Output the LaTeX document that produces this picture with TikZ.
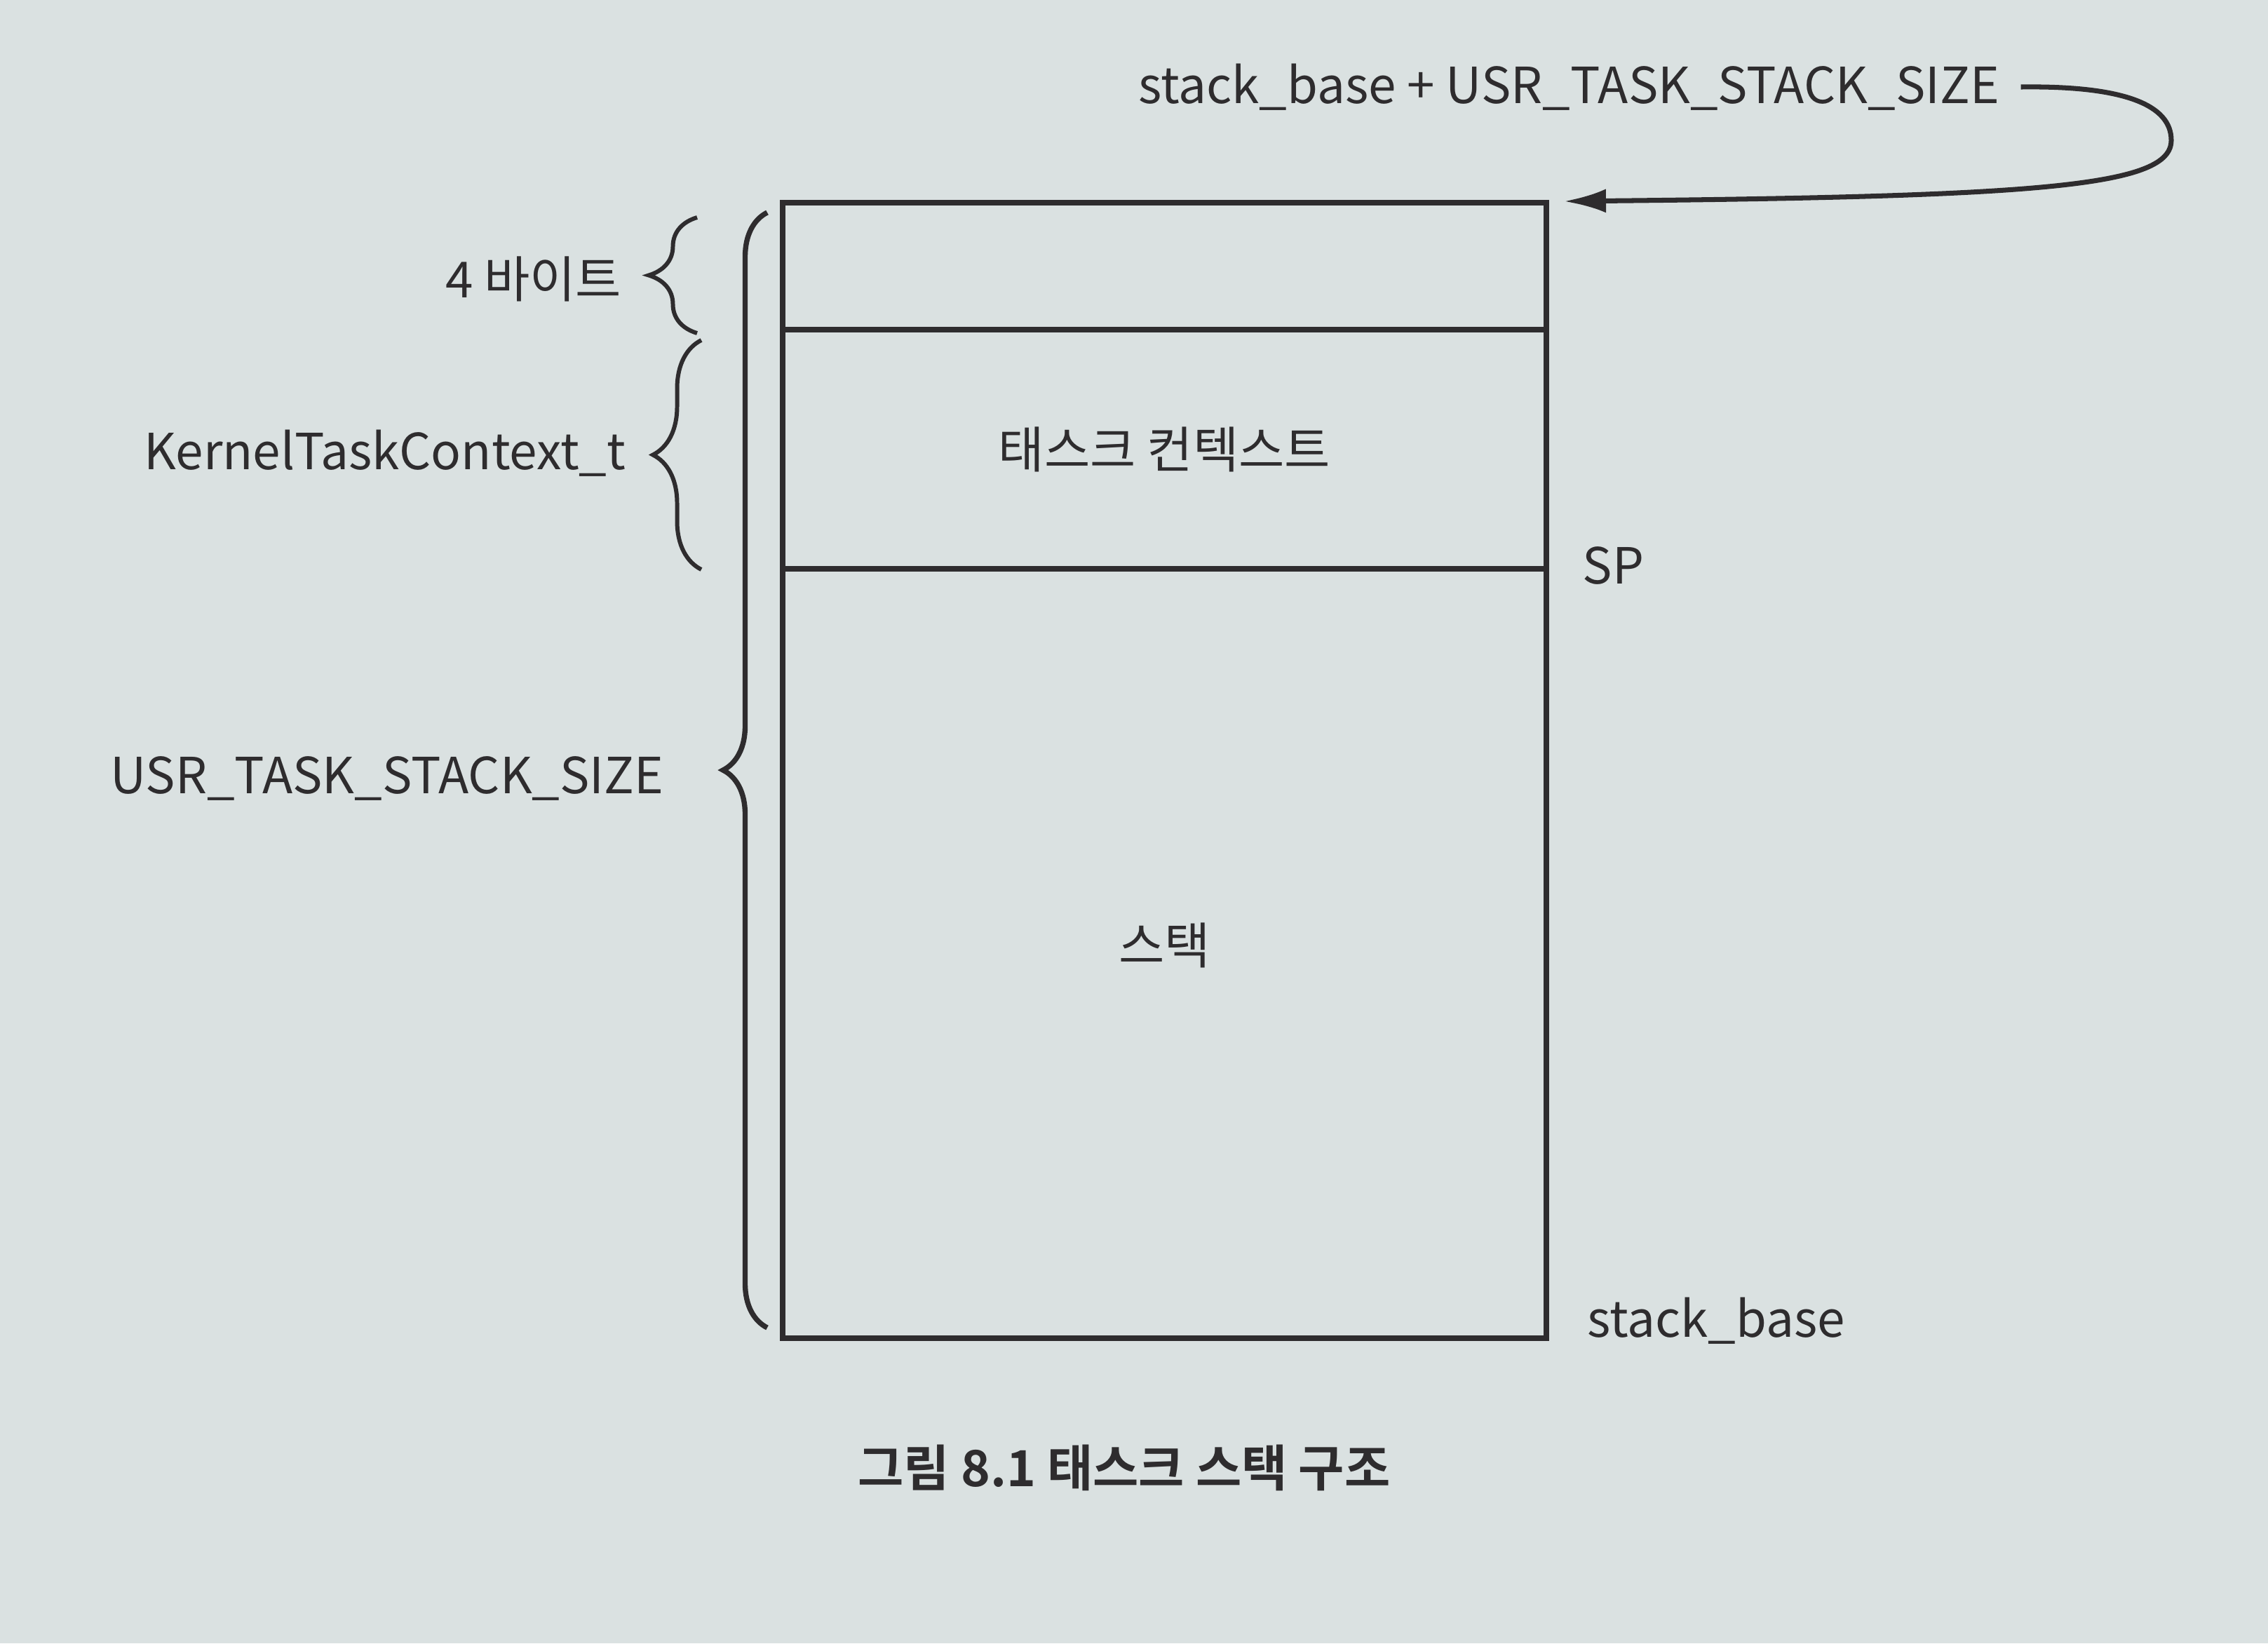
\documentclass[tikz,border=0pt]{standalone}
\usepackage{fontspec}
\setmainfont{Noto Sans CJK KR}[BoldFont={Noto Sans CJK KR Bold}]
\usetikzlibrary{arrows.meta,decorations.pathreplacing}
\definecolor{paper}{RGB}{218,225,225}
\definecolor{ink}{RGB}{46,44,46}
\tikzset{
  cell/.style={draw=ink, line width=2.3pt, minimum width=10.89cm, outer sep=0pt, inner sep=0pt},
  lbl/.style={text=ink, inner sep=0pt, font=\fontsize{20.2}{24}\selectfont},
  brace/.style={draw=ink, line width=1.7pt, decorate, decoration={brace, amplitude=#1}},
}
\begin{document}
\begin{tikzpicture}[>={Latex[length=6mm,width=3.4mm]}]
    \fill[paper] (0,0) rectangle (32.34,-23.43);
    \useasboundingbox (0,0) rectangle (32.34,-23.43);
    % stack frame
    \node[cell, minimum height=1.81cm, anchor=north west] (pad) at (11.16,-2.89) {};
    \node[cell, lbl, minimum height=3.41cm, anchor=north] (ctx) at (pad.south) {태스크 컨텍스트};
    \node[cell, lbl, minimum height=10.97cm, anchor=north] (stk) at (ctx.south) {\raisebox{0.29cm}{스택}};
    % braces
    \draw[brace=0.69cm] (9.94,-4.75) -- (9.94,-3.10);
    \draw[brace=0.69cm] (10.00,-8.12) -- (10.00,-4.85);
    \draw[brace=0.63cm, line width=2.1pt] (10.94,-18.93) -- (10.94,-3.03);
    \node[lbl, anchor=east] (bytes) at (8.87,-3.98) {4 바이트};
    \node[lbl, anchor=east] (ktc) at (8.93,-6.46) {KernelTaskContext\_t};
    \node[lbl, anchor=east] (size) at (9.47,-11.10) {USR\_TASK\_STACK\_SIZE};
    % right side labels
    \node[lbl, anchor=west] (sp) at (22.56,-8.06) {SP};
    \node[lbl, anchor=west] (base) at (22.63,-18.83) {stack\_base};
    \node[lbl, anchor=west] (top) at (16.23,-1.24) {stack\_base + USR\_TASK\_STACK\_SIZE};
    \coordinate (toptip) at (22.30,-2.87);
    \draw[ink, line width=2pt, ->] ([xshift=0.3cm]top.east) .. controls (30.3,-1.22) and (30.96,-1.5) .. (30.96,-2.0)
        .. controls (30.96,-2.65) and (29.2,-2.8) .. (toptip);
    % caption
    \node[lbl, font=\fontsize{20.2}{24}\selectfont\bfseries] (cap) at (16.03,-20.93) {그림 8.1 태스크 스택 구조};
\end{tikzpicture}
\end{document}
